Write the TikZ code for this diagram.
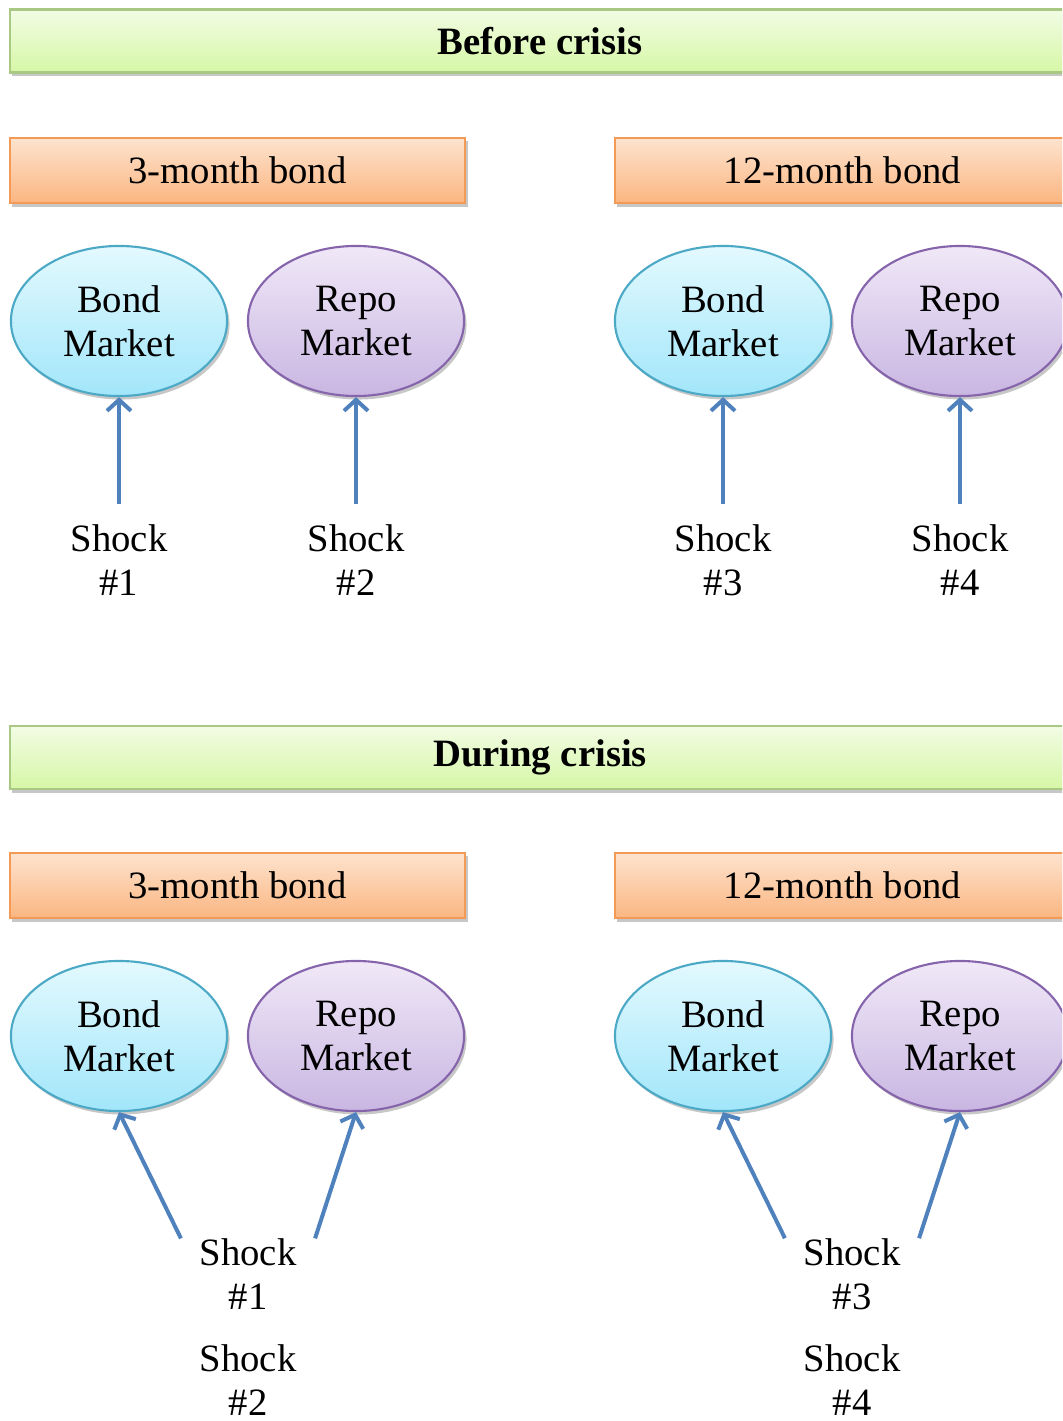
\documentclass[tikz,border=0pt]{standalone}
\usepackage{fontspec}
\setmainfont{Liberation Serif}
\usetikzlibrary{shapes.geometric,shadows,arrows.meta,positioning}

\definecolor{greentop}{HTML}{F2FCE4}
\definecolor{greenbot}{HTML}{D6F7A6}
\definecolor{greenline}{HTML}{A9C884}
\definecolor{orangetop}{HTML}{FDE3CE}
\definecolor{orangebot}{HTML}{FBB681}
\definecolor{orangeline}{HTML}{F39A57}
\definecolor{bluetop}{HTML}{E3F9FE}
\definecolor{bluebot}{HTML}{A2E6FA}
\definecolor{blueline}{HTML}{4CA9C6}
\definecolor{purpletop}{HTML}{F0E8F7}
\definecolor{purplebot}{HTML}{C9B6E2}
\definecolor{purpleline}{HTML}{8564AC}
\definecolor{arrowblue}{HTML}{4F81BD}

\tikzset{
  boxshadow/.style={drop shadow={shadow xshift=0.025cm,shadow yshift=-0.035cm,fill=black,opacity=0.22}},
  banner/.style={rectangle,draw=greenline,line width=0.6pt,top color=greentop,bottom color=greenbot,
    minimum width=10.6cm,minimum height=0.63cm,inner sep=0,boxshadow,font=\fontsize{11}{12.5}\selectfont\bfseries},
  bondbox/.style={rectangle,draw=orangeline,line width=0.6pt,top color=orangetop,bottom color=orangebot,
    minimum width=4.55cm,minimum height=0.65cm,inner sep=0,boxshadow},
  bondmkt/.style={ellipse,draw=blueline,line width=0.6pt,top color=bluetop,bottom color=bluebot,
    minimum width=2.16cm,minimum height=1.5cm,inner sep=0,align=center,boxshadow},
  repomkt/.style={bondmkt,draw=purpleline,top color=purpletop,bottom color=purplebot},
  shocklbl/.style={align=center,inner sep=0.2cm},
  shocklow/.style={align=center,inner xsep=0.18cm,inner ysep=0},
  shockarrow/.style={draw=arrowblue,line width=0.04cm,-{Straight Barb[length=0.11cm,width=0.24cm]}}
}

\begin{document}
\begin{tikzpicture}[x=0.01cm,y=-0.01cm,every node/.style={font=\fontsize{11}{12.5}\selectfont}]
  \useasboundingbox (0,0) rectangle (1062,1421);
  \clip (0,0) rectangle (1062,1421);

  % before crisis
  \node[banner] (before) at (540,41) {Before crisis};
  \node[bondbox] (threea) at (237.5,170.5) {3-month bond};
  \node[bondbox] (twelvea) at (842.5,170.5) {12-month bond};
  \foreach \bx/\k in {119/a,723/b} {
    \node[bondmkt] (bond\k) at (\bx,321) {Bond\\Market};
    \node[repomkt] (repo\k) at (\bx+237,321) {Repo\\Market};
  }
  \foreach \x/\i in {119/1,356/2,723/3,960/4} {\node[shocklbl] (shk\i) at (\x,560) {Shock\\\#\i};}
  \draw[shockarrow] (shk1.north) -- (bonda.south);
  \draw[shockarrow] (shk2.north) -- (repoa.south);
  \draw[shockarrow] (shk3.north) -- (bondb.south);
  \draw[shockarrow] (shk4.north) -- (repob.south);

  % during crisis
  \node[banner] (during) at (540,757.5) {During crisis};
  \node[bondbox] (threeb) at (237.5,885.5) {3-month bond};
  \node[bondbox] (twelveb) at (842.5,885.5) {12-month bond};
  \foreach \bx/\k in {119/a,723/b} {
    \node[bondmkt] (lbond\k) at (\bx,1036) {Bond\\Market};
    \node[repomkt] (lrepo\k) at (\bx+237,1036) {Repo\\Market};
  }
  \node[shocklow] (lshk1) at (248,1274.5) {Shock\\\#1};
  \node[shocklow] (lshk2) at (248,1380) {Shock\\\#2};
  \node[shocklow] (lshk3) at (852,1274.5) {Shock\\\#3};
  \node[shocklow] (lshk4) at (852,1380) {Shock\\\#4};
  \draw[shockarrow] (lshk1.north west) -- (lbonda.south);
  \draw[shockarrow] (lshk1.north east) -- (lrepoa.south);
  \draw[shockarrow] (lshk3.north west) -- (lbondb.south);
  \draw[shockarrow] (lshk3.north east) -- (lrepob.south);
\end{tikzpicture}
\end{document}
